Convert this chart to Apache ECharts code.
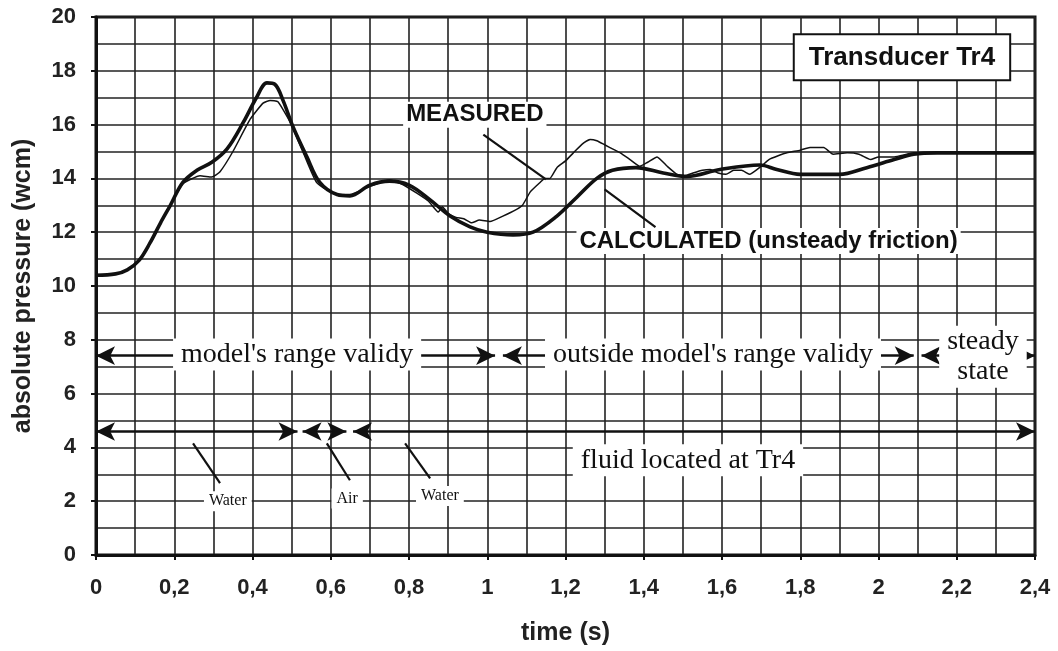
<!DOCTYPE html>
<html>
<head>
<meta charset="utf-8">
<script src="https://cdn.jsdelivr.net/npm/echarts@6/dist/echarts.min.js"></script>
<style>
  html, body { margin: 0; padding: 0; background: #fff; }
  #chart { width: 1058px; height: 651px; }
</style>
</head>
<body>
<div id="chart"></div>
<script>
// calculated curve (unsteady friction)
var calcTime = [0, 0.05, 0.08, 0.11, 0.138, 0.165, 0.19, 0.222, 0.258, 0.296, 0.335, 0.376, 0.41, 0.437, 0.457, 0.478, 0.504, 0.539, 0.572, 0.616, 0.649,
  0.7, 0.75, 0.8, 0.854, 0.905, 0.956, 1.0, 1.066, 1.117, 1.178, 1.229, 1.28, 1.32, 1.38, 1.45, 1.51, 1.595, 1.697, 1.74,
  1.8, 1.9, 1.97, 2.04, 2.09, 2.15, 2.4];
var calcValue = [10.4, 10.45, 10.6, 10.95, 11.6, 12.35, 13.0, 13.85, 14.3, 14.6, 15.1, 16.07, 17.0, 17.55, 17.5, 16.9, 15.9, 14.8, 13.85, 13.4, 13.35,
  13.75, 13.9, 13.75, 13.2, 12.6, 12.2, 12.0, 11.9, 12.0, 12.6, 13.3, 14.0, 14.3, 14.4, 14.2, 14.07, 14.33, 14.5, 14.33,
  14.15, 14.15, 14.4, 14.7, 14.9, 14.95, 14.95];

// measured curve
var measTime = [0, 0.05, 0.08, 0.11, 0.138, 0.165, 0.19, 0.222, 0.266, 0.296, 0.317, 0.35, 0.394, 0.427, 0.445, 0.465, 0.496, 0.53, 0.564, 0.616, 0.649,
  0.7, 0.75, 0.78, 0.82, 0.85, 0.875, 0.885, 0.9, 0.92, 0.94, 0.96, 0.98, 1.007, 1.04, 1.075, 1.09, 1.11, 1.135, 1.147, 1.16,
  1.178, 1.2, 1.22, 1.245, 1.263, 1.28, 1.3, 1.32, 1.34, 1.365, 1.39, 1.41, 1.434, 1.46, 1.485, 1.505, 1.526, 1.55, 1.57, 1.59,
  1.61, 1.63, 1.65, 1.67, 1.7, 1.72, 1.745, 1.766, 1.8, 1.825, 1.86, 1.884, 1.92, 1.95, 1.98, 2.0, 2.04, 2.09, 2.2, 2.3, 2.4];
var measValue = [10.4, 10.45, 10.6, 10.95, 11.6, 12.35, 13.0, 13.8, 14.1, 14.05, 14.25, 15.0, 16.2, 16.8, 16.9, 16.85, 16.1, 14.95, 13.85, 13.4, 13.4,
  13.7, 13.95, 13.8, 13.45, 13.15, 12.75, 12.95, 12.7, 12.55, 12.5, 12.35, 12.45, 12.4, 12.6, 12.85, 13.0, 13.5, 13.85, 14.0, 14.0,
  14.4, 14.65, 14.95, 15.3, 15.45, 15.4, 15.25, 15.1, 14.95, 14.7, 14.45, 14.6, 14.8, 14.45, 14.15, 14.1, 14.2, 14.3, 14.33, 14.2,
  14.15, 14.3, 14.3, 14.15, 14.45, 14.7, 14.85, 14.95, 15.05, 15.15, 15.15, 14.9, 14.95, 14.9, 14.7, 14.8, 14.8, 14.95, 14.95, 14.95, 14.95];

// double-arrow ranges [from, to, level]
var rangeArrows = [[0, 1.02, 7.41], [1.04, 2.09, 7.41], [2.11, 2.4, 7.41],
  [0, 0.515, 4.59], [0.528, 0.64, 4.59], [0.657, 2.4, 4.59]];
// pointer lines [x1, y1, x2, y2]
var pointers = [[0.99, 15.63, 1.15, 13.96], [1.30, 13.59, 1.43, 12.19],
  [0.248, 4.15, 0.317, 2.67], [0.59, 4.15, 0.649, 2.78], [0.79, 4.15, 0.854, 2.85]];
// text labels [x, y, text, style]
var notes = [
  [0.785, 16.37, 'MEASURED', 'bold'],
  [1.228, 11.67, 'CALCULATED (unsteady friction)', 'bold'],
  [2.06, 18.5, 'Transducer Tr4', 'box'],
  [0.514, 7.45, "model's range validy", 'serif'],
  [1.577, 7.45, "outside model's range validy", 'serif'],
  [2.267, 7.37, 'steady\nstate', 'serif'],
  [1.513, 3.52, 'fluid located at Tr4', 'serif'],
  [0.337, 2.0, 'Water', 'small'],
  [0.642, 2.1, 'Air', 'small'],
  [0.879, 2.19, 'Water', 'small']
];

function zip(a, b) { return a.map(function (v, i) { return [v, b[i]]; }); }
function comma(v) { return String(Math.round(v * 10) / 10).replace('.', ','); }

var labelStyles = {
  bold: { fontFamily: 'Liberation Sans, Arial', fontWeight: 'bold', fontSize: 24, color: '#111', backgroundColor: '#fff', padding: [1, 3], align: 'left' },
  box: { fontFamily: 'Liberation Sans, Arial', fontWeight: 'bold', fontSize: 26, color: '#111', backgroundColor: '#fff', padding: [9, 14], borderColor: '#111', borderWidth: 2, align: 'center' },
  serif: { fontFamily: 'Liberation Serif, Times New Roman', fontSize: 28, color: '#111', backgroundColor: '#fff', padding: [1, 8], lineHeight: 30, align: 'center' },
  small: { fontFamily: 'Liberation Serif, Times New Roman', fontSize: 16, color: '#111', backgroundColor: '#fff', padding: [2, 5], align: 'center' }
};

var chart = echarts.init(document.getElementById('chart'));
var gridLine = { show: true, lineStyle: { color: '#222', width: 1.6 } };
var tickFont = { fontFamily: 'Liberation Sans, Arial', fontWeight: 'bold', fontSize: 22, color: '#222' };
var nameFont = { fontFamily: 'Liberation Sans, Arial', fontWeight: 'bold', fontSize: 25, color: '#222' };

chart.setOption({
  animation: false,
  backgroundColor: '#fff',
  grid: { left: 96, right: 23, top: 17, bottom: 94, show: true, borderColor: '#111', borderWidth: 3 },
  xAxis: {
    type: 'value', min: 0, max: 2.4, interval: 0.2,
    name: 'time (s)', nameLocation: 'middle', nameGap: 66,
    nameTextStyle: nameFont,
    axisLine: { lineStyle: { color: '#111', width: 3 } },
    axisTick: { show: true, length: 5, lineStyle: { color: '#111', width: 2 } },
    axisLabel: Object.assign({ margin: 22, formatter: comma }, tickFont),
    splitLine: gridLine,
    minorTick: { show: false, splitNumber: 2 },
    minorSplitLine: gridLine
  },
  yAxis: {
    type: 'value', min: 0, max: 20, interval: 2,
    name: 'absolute pressure (wcm)', nameLocation: 'middle', nameGap: 60,
    nameTextStyle: nameFont,
    axisLine: { show: true, lineStyle: { color: '#111', width: 3 } },
    axisTick: { show: true, length: 5, lineStyle: { color: '#111', width: 2 } },
    axisLabel: Object.assign({ margin: 20 }, tickFont),
    splitLine: gridLine,
    minorTick: { show: false, splitNumber: 2 },
    minorSplitLine: gridLine
  },
  series: [
    {
      name: 'measured', type: 'line', data: zip(measTime, measValue),
      showSymbol: false, smooth: 0.15,
      lineStyle: { color: '#111', width: 1.5 }, z: 3
    },
    {
      name: 'calculated', type: 'line', data: zip(calcTime, calcValue),
      showSymbol: false, smooth: 0.35,
      lineStyle: { color: '#111', width: 3.6 }, z: 4
    },
    {
      name: 'notes', type: 'line', data: [], z: 5,
      markLine: {
        silent: true, animation: false,
        label: { show: false },
        data: rangeArrows.map(function (r) {
          return [{ coord: [r[0], r[2]], symbol: 'arrow', symbolSize: [14, 19], lineStyle: { color: '#111', width: 2.5, type: 'solid' } },
                  { coord: [r[1], r[2]], symbol: 'arrow', symbolSize: [14, 19] }];
        }).concat(pointers.map(function (p) {
          return [{ coord: [p[0], p[1]], symbol: 'none', lineStyle: { color: '#111', width: 2.2, type: 'solid' } },
                  { coord: [p[2], p[3]], symbol: 'none' }];
        }))
      },
      markPoint: {
        silent: true, symbolSize: 0,
        data: notes.map(function (n) {
          return { coord: [n[0], n[1]], value: n[2],
            label: Object.assign({ show: true, position: 'inside', verticalAlign: 'middle', formatter: n[2] }, labelStyles[n[3]]) };
        })
      }
    }
  ]
});
</script>
</body>
</html>
